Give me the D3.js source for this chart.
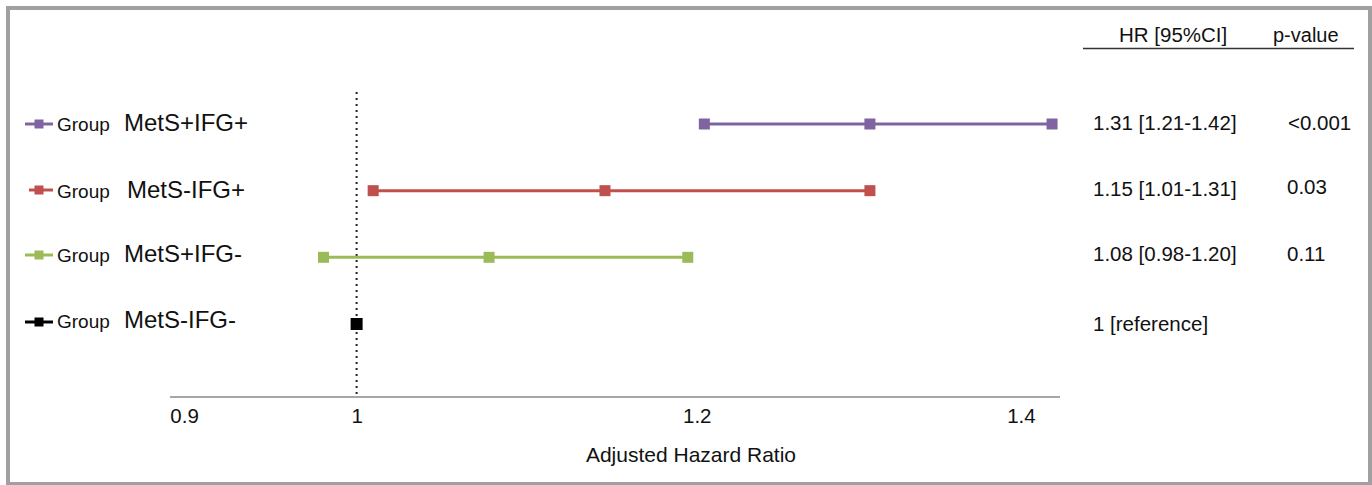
<!DOCTYPE html>
<html><head><meta charset="utf-8">
<script src="https://cdn.jsdelivr.net/npm/d3@7"></script>
<style>body{margin:0;background:#fff;font-family:"Liberation Sans",Arial,sans-serif;}</style>
</head><body>
<svg id="c" width="1372" height="485"></svg>
<script>
const groups = ["MetS+IFG+", "MetS-IFG+", "MetS+IFG-", "MetS-IFG-"];
const hr = [1.31, 1.15, 1.08, 1];
const lower = [1.21, 1.01, 0.98, 1];
const upper = [1.42, 1.31, 1.20, 1];
const hrText = ["1.31 [1.21-1.42]", "1.15 [1.01-1.31]", "1.08 [0.98-1.20]", "1 [reference]"];
const pValues = ["<0.001", "0.03", "0.11", ""];
const tickValues = [0.9, 1, 1.2, 1.4];
const tickLabels = ["0.9", "1", "1.2", "1.4"];
const colors = ["#8064a2", "#c0504d", "#9bbb59", "#000000"];

const svg = d3.select("#c");
const FF = "Liberation Sans, Arial, sans-serif";
// frame
svg.append("rect").attr("x", 8).attr("y", 8).attr("width", 1362).attr("height", 476)
  .attr("fill", "none").attr("stroke", "#a0a0a0").attr("stroke-width", 4);

const x = d3.scaleLinear().domain([0.8873, 1.4248]).range([170, 1060]);
const y = d3.scalePoint().domain(groups).range([124, 324]);

// axis line
svg.append("line").attr("x1", x.range()[0]).attr("x2", x.range()[1])
  .attr("y1", 397).attr("y2", 397).attr("stroke", "#8a8a8a").attr("stroke-width", 1.5);

// tick labels
const axis = d3.axisBottom(x).tickValues(tickValues).tickSize(0)
  .tickFormat((d, i) => tickLabels[i]);
const ag = svg.append("g").attr("transform", "translate(0,397)").call(axis);
ag.select(".domain").remove();
const tickDx = [-7, 0, 9, 2];
ag.selectAll(".tick text").attr("font-size", 20.5).attr("fill", "#111")
  .attr("font-family", FF).attr("y", 26).attr("dy", 0)
  .attr("dx", (d, i) => tickDx[i]);

// reference line
svg.append("line").attr("x1", x(1)).attr("x2", x(1)).attr("y1", 92).attr("y2", 394)
  .attr("stroke", "#222").attr("stroke-width", 2).attr("stroke-dasharray", "2,4");

svg.append("text").attr("x", 691).attr("y", 462).attr("text-anchor", "middle")
  .attr("font-size", 21).attr("fill", "#111").text("Adjusted Hazard Ratio");

// CI lines and markers
groups.forEach((g, i) => {
  const yy = y(g);
  const gg = svg.append("g");
  if (upper[i] !== lower[i]) {
    gg.append("line").attr("x1", x(lower[i])).attr("x2", x(upper[i]))
      .attr("y1", yy).attr("y2", yy).attr("stroke", colors[i]).attr("stroke-width", 3);
  }
  const pts = upper[i] !== lower[i] ? [lower[i], hr[i], upper[i]] : [hr[i]];
  const s = i === 3 ? 12 : 11;
  gg.selectAll("rect").data(pts).join("rect")
    .attr("x", d => x(d) - s / 2).attr("y", yy - s / 2)
    .attr("width", s).attr("height", s).attr("fill", colors[i]);
});

// legend labels
const legendY = [124, 190, 255, 322];
const legendBase = [131, 198, 262, 328];
const legendX0 = [25, 29, 25, 25];
const nameX = [124, 127, 124, 124];
groups.forEach((g, i) => {
  const yy = legendY[i];
  svg.append("line").attr("x1", legendX0[i]).attr("x2", 53).attr("y1", yy).attr("y2", yy)
    .attr("stroke", colors[i]).attr("stroke-width", 3);
  svg.append("rect").attr("x", 34.5).attr("y", yy - 4.5).attr("width", 9).attr("height", 9)
    .attr("fill", colors[i]);
  svg.append("text").attr("x", 57).attr("y", legendBase[i]).attr("font-size", 19).attr("fill", "#111")
    .text("Group");
  svg.append("text").attr("x", nameX[i]).attr("y", legendBase[i]).attr("font-size", 24).attr("fill", "#111")
    .text(g);
});

// table header
svg.append("text").attr("x", 1119).attr("y", 42)
  .attr("font-size", 20.5).attr("fill", "#111").text("HR [95%CI]");
svg.append("text").attr("x", 1273).attr("y", 42)
  .attr("font-size", 20).attr("fill", "#111").text("p-value");
svg.append("line").attr("x1", 1083).attr("x2", 1354).attr("y1", 48.5).attr("y2", 48.5)
  .attr("stroke", "#333").attr("stroke-width", 1.5);

// table rows
const tableBase = [130, 196, 261, 331];
const pBase = [130, 194, 261, 331];
const pX = [1288, 1287, 1287, 1287];
groups.forEach((g, i) => {
  svg.append("text").attr("x", 1093).attr("y", tableBase[i]).attr("font-size", 20.5).attr("fill", "#111")
    .text(hrText[i]);
  svg.append("text").attr("x", pX[i]).attr("y", pBase[i]).attr("font-size", 20.5).attr("fill", "#111")
    .text(pValues[i]);
});
</script>
</body></html>
